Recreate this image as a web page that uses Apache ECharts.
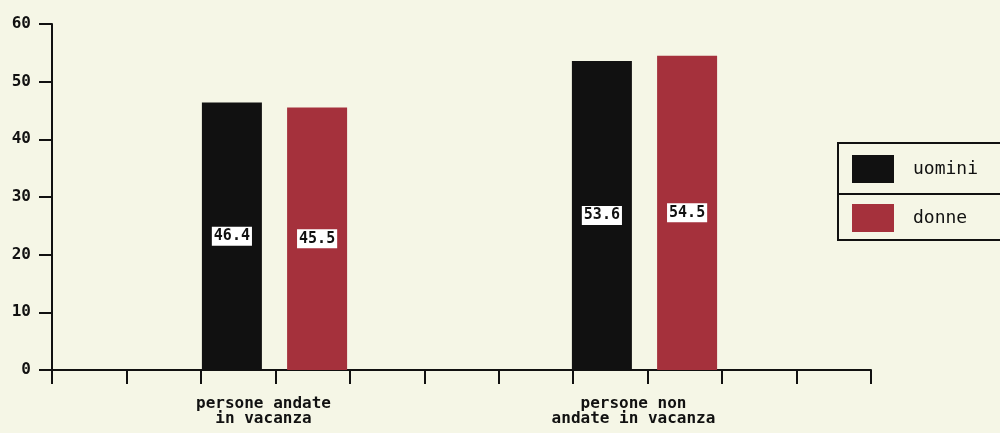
<!DOCTYPE html>
<html>
<head>
<meta charset="utf-8">
<script src="https://cdn.jsdelivr.net/npm/echarts@6/dist/echarts.min.js"></script>
<style>
html,body{margin:0;padding:0;background:#f5f6e6;}
#c{width:1000px;height:433px;}
</style>
</head>
<body>
<div id="c"></div>
<script>
const categories = ['persone andate\nin vacanza', 'persone non\nandate in vacanza'];
const uomini = [46.4, 53.6];
const donne = [45.5, 54.5];
const seriesNames = ['uomini', 'donne'];

const FONT = 'DejaVu Sans Mono';
const INK = '#111111';
const RED = '#a5313c';

const chart = echarts.init(document.getElementById('c'));
const barLabel = {
  show: true,
  position: 'inside',
  color: INK,
  backgroundColor: '#ffffff',
  padding: [3, 2, 1, 2],
  fontFamily: FONT,
  fontWeight: 'bold',
  fontSize: 15,
  formatter: p => p.value.toFixed(1)
};
const legendText = { color: INK, fontFamily: FONT, fontSize: 18, padding: [0, 0, 0, 14] };
chart.setOption({
  backgroundColor: '#f5f6e6',
  animation: false,
  grid: [
    { left: 89.5, right: 170.5, top: 24, bottom: 63 },
    { left: 52, right: 129, top: 24, bottom: 63 }
  ],
  xAxis: [
    {
      type: 'category', gridIndex: 0, data: categories,
      axisLine: { show: false }, axisTick: { show: false },
      axisLabel: {
        color: INK, fontFamily: FONT, fontWeight: 'bold', fontSize: 16,
        lineHeight: 15, margin: 26, padding: [0, 22, 0, 0]
      }
    },
    {
      type: 'value', gridIndex: 1, min: 0, max: 11, interval: 1,
      axisLine: { show: true, lineStyle: { color: INK, width: 2 } },
      axisTick: { show: true, length: 14, lineStyle: { color: INK, width: 2 } },
      axisLabel: { show: false },
      splitLine: { show: false }
    }
  ],
  yAxis: [
    { type: 'value', gridIndex: 0, min: 0, max: 60, interval: 10, show: false },
    {
      type: 'value', gridIndex: 1, min: 0, max: 60, interval: 10,
      axisLine: { show: true, lineStyle: { color: INK, width: 2 } },
      axisTick: { show: true, length: 13, lineStyle: { color: INK, width: 2 } },
      axisLabel: { color: INK, fontFamily: FONT, fontWeight: 'bold', fontSize: 16, margin: 21 },
      splitLine: { show: false }
    }
  ],
  legend: [
    {
      data: [seriesNames[0]], orient: 'vertical', left: 838, top: 143, icon: 'rect',
      itemWidth: 42, itemHeight: 28, padding: [12, 40, 11, 14],
      borderColor: INK, borderWidth: 2, textStyle: legendText
    },
    {
      data: [seriesNames[1]], orient: 'vertical', left: 838, top: 194, icon: 'rect',
      itemWidth: 42, itemHeight: 28, padding: [10, 60, 8, 14],
      borderColor: INK, borderWidth: 2, textStyle: legendText
    }
  ],
  series: [
    {
      name: seriesNames[0], type: 'bar', xAxisIndex: 0, yAxisIndex: 0,
      data: uomini, barWidth: 60, barGap: '42%',
      itemStyle: { color: INK }, label: barLabel
    },
    {
      name: seriesNames[1], type: 'bar', xAxisIndex: 0, yAxisIndex: 0,
      data: donne, barWidth: 60, barGap: '42%',
      itemStyle: { color: RED }, label: barLabel
    }
  ]
});
</script>
</body>
</html>
